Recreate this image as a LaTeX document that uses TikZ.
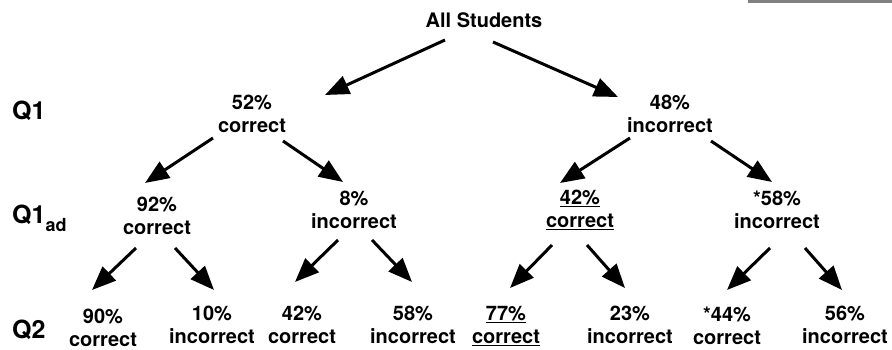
\documentclass[tikz,border=0pt]{standalone}
\usepackage{fontspec}
\setmainfont{TeX Gyre Heros}
\usetikzlibrary{arrows.meta}
\tikzset{
  lbl/.style={inner sep=0pt, align=center, font=\fontsize{20}{23.5}\selectfont\bfseries},
  qlbl/.style={inner sep=0pt, anchor=base west, font=\fontsize{25}{25}\selectfont\bfseries},
  arr/.style={line width=3pt, -{Triangle[length=24pt, width=19pt]}},
}
\newcommand{\sh}[3]{([shift={(#1,#2)}]#3.center)}
\begin{document}
\begin{tikzpicture}[x=1pt, y=-1pt]
\useasboundingbox (0,0) rectangle (892,350);
\fill[black!50] (748,0) rectangle (892,3.5);
% row labels
\node[qlbl] (q1) at (12,120) {Q1};
\node[qlbl] (q1ad) at (12,223) {Q1\raisebox{-8pt}{\fontsize{18}{18}\selectfont ad}};
\node[qlbl] (q2) at (12,338) {Q2};
% nodes
\node[lbl] (all) at (484,20) {All Students};
\node[lbl] (a52) at (252,114) {52\%\\correct};
\node[lbl] (a48) at (670,114) {48\%\\incorrect};
\node[lbl] (b92) at (157,216) {92\%\\correct};
\node[lbl] (b8) at (354,210) {8\%\\incorrect};
\node[lbl] (b42) at (580,210) {\underline{42\%}\\\underline{correct}};
\node[lbl] (b58) at (777,210) {*58\%\\incorrect};
\node[lbl] (c90) at (103,328) {90\%\\correct};
\node[lbl] (c10) at (212,325) {10\%\\incorrect};
\node[lbl] (c42) at (302,325) {42\%\\correct};
\node[lbl] (c58) at (413,325) {58\%\\incorrect};
\node[lbl] (c77) at (506,326) {\underline{77\%}\\\underline{correct}};
\node[lbl] (c23) at (630,325) {23\%\\incorrect};
\node[lbl] (c44) at (727,326) {*44\%\\correct};
\node[lbl] (c56) at (845,325) {56\%\\incorrect};
% arrows
\draw[arr] \sh{-39}{20}{all} -- \sh{73}{-19}{a52};
\draw[arr] \sh{9}{22}{all} -- \sh{-52}{-17}{a48};
\draw[arr] \sh{-39}{24}{a52} -- \sh{-12}{-33}{b92};
\draw[arr] \sh{31}{27}{a52} -- \sh{-11}{-28}{b8};
\draw[arr] \sh{-40}{24}{a48} -- \sh{-20}{-27}{b42};
\draw[arr] \sh{41}{27}{a48} -- \sh{-5}{-28}{b58};
\draw[arr] \sh{-21}{32}{b92} -- \sh{-11}{-38}{c90};
\draw[arr] \sh{18}{32}{b92} -- \sh{2}{-35}{c10};
\draw[arr] \sh{-16}{30}{b8} -- \sh{-7}{-43}{c42};
\draw[arr] \sh{18}{30}{b8} -- \sh{-1}{-43}{c58};
\draw[arr] \sh{-28}{35}{b42} -- \sh{4}{-38}{c77};
\draw[arr] \sh{7}{35}{b42} -- \sh{-5}{-37}{c23};
\draw[arr] \sh{-7}{38}{b58} -- \sh{0}{-36}{c44};
\draw[arr] \sh{28}{38}{b58} -- \sh{-3}{-35}{c56};
\end{tikzpicture}
\end{document}
